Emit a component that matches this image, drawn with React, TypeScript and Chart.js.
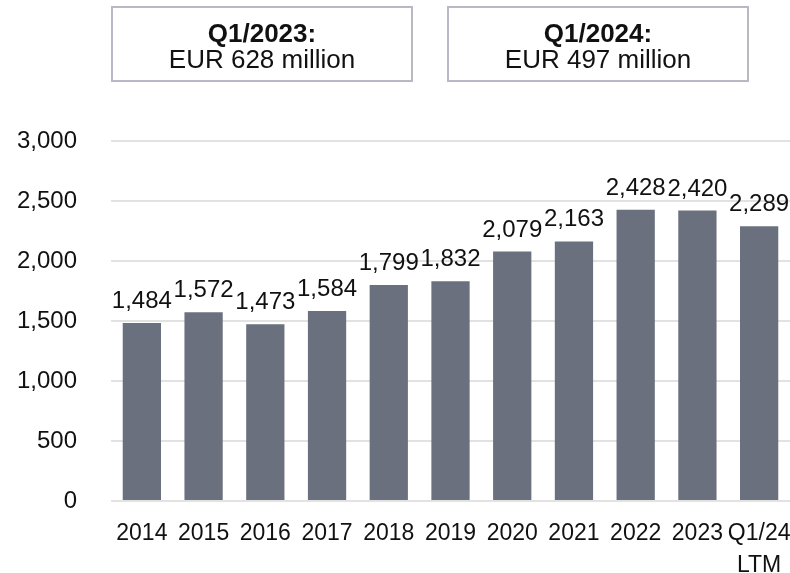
import React, { useEffect, useRef } from "react";
import { Chart, registerables } from "chart.js";

Chart.register(...registerables);

const categories: (string | string[])[] = ["2014", "2015", "2016", "2017", "2018", "2019", "2020", "2021", "2022", "2023", ["Q1/24", "LTM"]];
const values: number[] = [1484, 1572, 1473, 1584, 1799, 1832, 2079, 2163, 2428, 2420, 2289];
const boxTitles: string[] = ["Q1/2023:", "Q1/2024:"];
const boxValues: string[] = ["EUR 628 million", "EUR 497 million"];

const FONT = "'Liberation Sans', Arial, Helvetica, sans-serif";
const fmt = (v: number) => v.toLocaleString("en-US");

const labelPlugin = {
  id: "barLabels",
  afterDatasetsDraw(chart: any) {
    const ctx = chart.ctx;
    const meta = chart.getDatasetMeta(0);
    ctx.save();
    ctx.font = `24px ${FONT}`;
    ctx.fillStyle = "#111111";
    ctx.textAlign = "center";
    ctx.textBaseline = "alphabetic";
    meta.data.forEach((bar: any, i: number) => {
      ctx.fillText(fmt(values[i]), bar.x, bar.y - 15);
    });
    ctx.restore();
  },
};

export default function App() {
  const ref = useRef<HTMLCanvasElement | null>(null);
  useEffect(() => {
    document.body.style.margin = "0";
    const chart = new Chart(ref.current!, {
      type: "bar",
      data: {
        labels: categories,
        datasets: [
          {
            data: values,
            backgroundColor: "#6b707e",
            categoryPercentage: 1,
            barPercentage: 0.62,
          },
        ],
      },
      options: {
        animation: false,
        responsive: false,
        devicePixelRatio: 1,
        layout: { padding: { top: 141, left: 0, right: 0, bottom: 0 } },
        plugins: { legend: { display: false }, tooltip: { enabled: false } },
        scales: {
          x: {
            grid: { display: false, drawTicks: false },
            border: { display: false },
            ticks: {
              font: { family: FONT, size: 23, lineHeight: 1.38 },
              color: "#111111",
              padding: 17,
              maxRotation: 0,
              autoSkip: false,
            },
            afterFit: (s: any) => {
              s.height = 72;
              s.paddingLeft = 0;
              s.paddingRight = 0;
            },
          },
          y: {
            min: 0,
            max: 3000,
            grid: { color: "#e2e2e2", lineWidth: 2, drawTicks: false },
            border: { display: false },
            ticks: {
              stepSize: 500,
              font: { family: FONT, size: 24 },
              color: "#111111",
              padding: 34,
              callback: (v: any) => fmt(Number(v)),
            },
            afterFit: (s: any) => {
              s.width = 111;
            },
          },
        },
      },
      plugins: [labelPlugin],
    });
    return () => chart.destroy();
  }, []);

  const boxLefts = [111, 447];
  return (
    <div style={{ position: "relative", width: 790, height: 573, background: "#fff" }}>
      <canvas ref={ref} width={790} height={573} style={{ position: "absolute", left: 0, top: 0 }} />
      {boxTitles.map((t, i) => (
        <div
          key={i}
          style={{
            position: "absolute",
            left: boxLefts[i],
            top: 6,
            width: 302,
            height: 76,
            boxSizing: "border-box",
            border: "2px solid #b9b9c6",
            textAlign: "center",
            fontFamily: FONT,
            fontSize: 26,
            color: "#111",
            paddingTop: 12,
          }}
        >
          <div style={{ lineHeight: "26px", fontWeight: "bold" }}>{t}</div>
          <div style={{ lineHeight: "26px" }}>{boxValues[i]}</div>
        </div>
      ))}
    </div>
  );
}
